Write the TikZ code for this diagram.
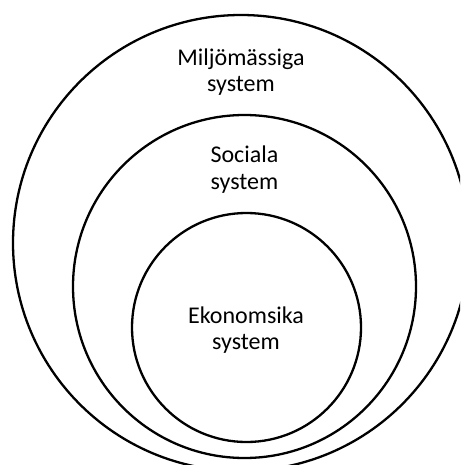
\documentclass[tikz,border=0pt]{standalone}
\usepackage{fontspec}
\setmainfont{Carlito}
\begin{document}
\begin{tikzpicture}[x=1pt,y=-1pt,
  ring/.style={draw=black,line width=2.3pt},
  lbl/.style={anchor=base,inner sep=0pt,font=\fontsize{24}{29}\selectfont,text=black}]
\useasboundingbox (0,0) rectangle (460,465);
\begin{scope}
\clip (0,0) rectangle (460,465);
\draw[ring] (241,243) circle[radius=228];
\draw[ring] (244.5,286.5) circle[radius=171.5];
\draw[ring] (246.5,327.5) circle[radius=114.5];
\end{scope}
\node[lbl] (m1) at (241,66) {Miljömässiga};
\node[lbl] (m2) at (241,92) {system};
\node[lbl] (s1) at (244.5,163) {Sociala};
\node[lbl] (s2) at (244.5,189) {system};
\node[lbl] (e1) at (246,323) {Ekonomsika};
\node[lbl] (e2) at (246,349) {system};
\end{tikzpicture}
\end{document}
